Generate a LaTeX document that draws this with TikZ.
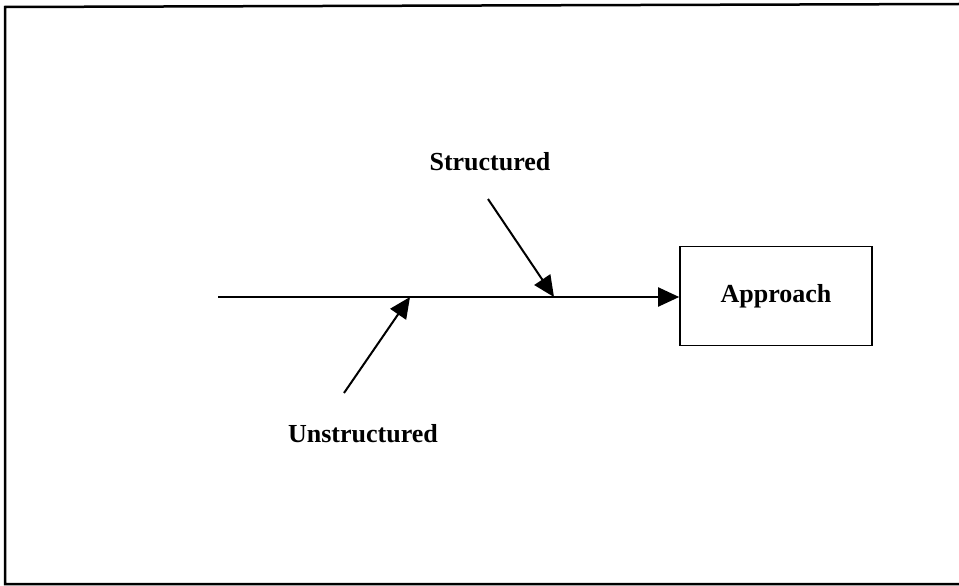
\documentclass[tikz,border=0pt]{standalone}
\usepackage{fontspec}
\setmainfont{Liberation Serif}
\usetikzlibrary{arrows.meta}
\begin{document}
\begin{tikzpicture}[x=1pt,y=-1pt,
  lbl/.style={font=\fontsize{26}{30}\selectfont\bfseries, inner sep=0pt},
  conn/.style={line width=2pt, -{Triangle[length=21pt,width=19pt]}},
  boxst/.style={draw, line width=1.6pt, minimum width=192pt, minimum height=99pt, inner sep=0pt}]
\useasboundingbox (0,0) rectangle (959,586);
% frame (no right side)
\coordinate (f1) at (959,4);
\coordinate (f2) at (5,7);
\coordinate (f3) at (5,584);
\coordinate (f4) at (959,584);
\draw[line width=2.5pt] (f1) -- (f2) -- (f3) -- (f4);
% box
\node[boxst, font=\fontsize{26}{30}\selectfont\bfseries] (app) at (776,296) {Approach};
% main line
\coordinate (start) at (218,297);
\coordinate (jU) at (410,297);
\coordinate (jS) at (554,297);
\draw[conn] (start) -- (app.west |- start);
% labels
\node[lbl] (sl) at (490,162) {Structured};
\node[lbl] (ul) at (363,434) {Unstructured};
% branch arrows
\coordinate (sS) at (488,199);
\coordinate (uS) at (344,393);
\draw[conn] (sS) -- (jS);
\draw[conn] (uS) -- (jU);
\end{tikzpicture}
\end{document}
